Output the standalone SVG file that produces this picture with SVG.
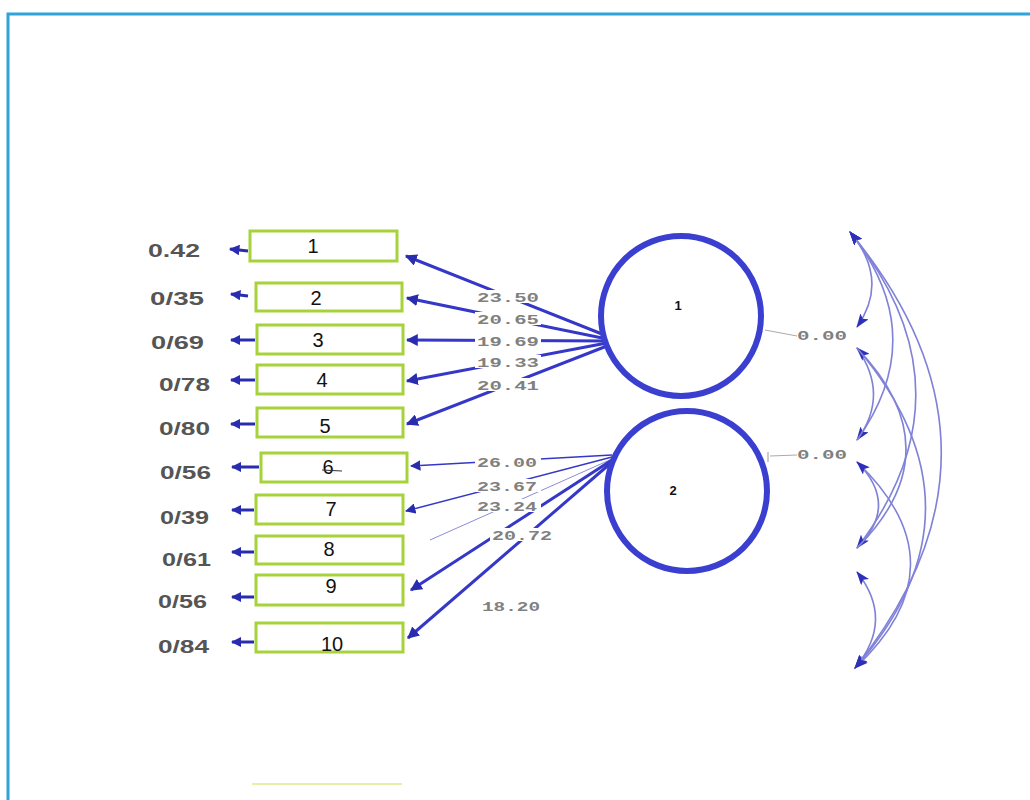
<svg xmlns="http://www.w3.org/2000/svg" width="1030" height="800" viewBox="0 0 1030 800">
<style>
.box{fill:#fff;stroke:#a6d23a;stroke-width:3}
.num{font-family:"Liberation Sans",Arial,sans-serif;font-size:20px;fill:#111;text-anchor:middle}
.err{font-family:"Liberation Sans",Arial,sans-serif;font-size:18px;font-weight:bold;fill:#555}
.load{font-family:"Liberation Mono","DejaVu Sans Mono",monospace;font-size:13px;fill:#808080;font-weight:bold}
.lat{fill:#fff;stroke:#3b3fd0;stroke-width:6}
.latl{font-family:"Liberation Sans",Arial,sans-serif;font-size:13px;font-weight:bold;fill:#111;text-anchor:middle}
.ln{stroke:#3537c8;fill:none;stroke-width:3}
.thin{stroke:#3537c8;fill:none;stroke-width:1.5}
.errln{stroke:#2a2cb0;stroke-width:3;fill:none}
.arc{stroke:#8082d8;stroke-width:1.6;fill:none}
.bg{fill:#fff}
</style>
<defs>
<marker id="ah" viewBox="0 0 10 10" refX="9" refY="5" markerWidth="4" markerHeight="4" orient="auto-start-reverse" markerUnits="strokeWidth">
<path d="M0,0 L10,5 L0,10 z" fill="#2a2cb0"/>
</marker>
<marker id="ahs" viewBox="0 0 10 10" refX="9" refY="5" markerWidth="7" markerHeight="7" orient="auto-start-reverse" markerUnits="strokeWidth">
<path d="M0,0 L10,5 L0,10 z" fill="#2a2cb0"/>
</marker>
<marker id="ahe" viewBox="0 0 10 10" refX="9" refY="5" markerWidth="3.5" markerHeight="3.5" orient="auto" markerUnits="strokeWidth">
<path d="M0,0 L10,5 L0,10 z" fill="#2a2cb0"/>
</marker>
<marker id="aha" viewBox="0 0 14 10" refX="13" refY="5" markerWidth="14" markerHeight="10" orient="auto-start-reverse" markerUnits="userSpaceOnUse">
<path d="M0,0 L14,5 L0,10 L3,5 z" fill="#2e30b8"/>
</marker>
</defs>
<rect x="0" y="0" width="1030" height="800" fill="#fff"/>
<rect id="frame" x="8" y="14" width="1030" height="800" fill="none" stroke="#2fa3da" stroke-width="3"/>
<line x1="252" y1="784" x2="402" y2="784" stroke="#e6f0a8" stroke-width="2"/>

<g id="connectors">
<!-- error arrows -->
<line class="errln" x1="248" y1="251" x2="230" y2="249" marker-end="url(#ahe)"/>
<line class="errln" x1="248" y1="296" x2="231" y2="294" marker-end="url(#ahe)"/>
<line class="errln" x1="255" y1="340" x2="231" y2="340" marker-end="url(#ahe)"/>
<line class="errln" x1="255" y1="380" x2="231" y2="380" marker-end="url(#ahe)"/>
<line class="errln" x1="255" y1="424" x2="231" y2="424" marker-end="url(#ahe)"/>
<line class="errln" x1="259" y1="467" x2="232" y2="467" marker-end="url(#ahe)"/>
<line class="errln" x1="254" y1="510" x2="232" y2="510" marker-end="url(#ahe)"/>
<line class="errln" x1="254" y1="552" x2="232" y2="552" marker-end="url(#ahe)"/>
<line class="errln" x1="254" y1="597" x2="232" y2="597" marker-end="url(#ahe)"/>
<line class="errln" x1="254" y1="642" x2="232" y2="642" marker-end="url(#ahe)"/>
<!-- loadings factor 1 -->
<line class="ln" x1="612" y1="338" x2="406" y2="256" marker-end="url(#ah)"/>
<line class="ln" x1="612" y1="340" x2="407" y2="298" marker-end="url(#ah)"/>
<line class="ln" x1="612" y1="341" x2="407" y2="340" marker-end="url(#ah)"/>
<line class="ln" x1="612" y1="342" x2="407" y2="381" marker-end="url(#ah)"/>
<line class="ln" x1="612" y1="344" x2="407" y2="424" marker-end="url(#ah)"/>
<!-- loadings factor 2 -->
<line class="thin" x1="612" y1="455" x2="411" y2="466" marker-end="url(#ahs)"/>
<line class="thin" x1="612" y1="457" x2="406" y2="511" marker-end="url(#ahs)"/>
<line stroke="#8a8cd8" stroke-width="1" x1="612" y1="459" x2="430" y2="540"/>
<line class="ln" x1="612" y1="460" x2="411" y2="590" marker-end="url(#ah)"/>
<line class="ln" x1="612" y1="462" x2="408" y2="638" marker-end="url(#ah)"/>
<!-- factor variance lines -->
<line stroke="#aaa" stroke-width="1" x1="765" y1="330" x2="797" y2="336"/>
<line stroke="#aaa" stroke-width="1" x1="770" y1="456" x2="797" y2="455"/>
<line stroke="#999" stroke-width="1" x1="768" y1="452" x2="768" y2="462"/>
<!-- correlation arcs (two-headed) -->
<path class="arc" d="M850,232 Q890,280 857,327" marker-start="url(#aha)" marker-end="url(#aha)"/>
<path class="arc" d="M850,232 Q932,335 857,440" marker-start="url(#aha)" marker-end="url(#aha)"/>
<path class="arc" d="M850,232 Q978,390 857,548" marker-start="url(#aha)" marker-end="url(#aha)"/>
<path class="arc" d="M850,232 Q1030,450 855,668" marker-start="url(#aha)" marker-end="url(#aha)"/>
<path class="arc" d="M857,348 Q890,395 857,440"/>
<path class="arc" d="M857,348 Q955,450 857,548" marker-start="url(#aha)"/>
<path class="arc" d="M857,348 Q995,510 855,668" marker-end="url(#aha)"/>
<path class="arc" d="M857,462 Q900,505 857,548"/>
<path class="arc" d="M857,462 Q965,565 855,668" marker-start="url(#aha)" marker-end="url(#aha)"/>
<path class="arc" d="M857,572 Q895,620 855,668" marker-start="url(#aha)" marker-end="url(#aha)"/>
</g>

<g id="loading-labels">
<rect class="bg" x="475" y="290" width="66" height="13"/>
<text class="load" x="477" y="302" textLength="62" lengthAdjust="spacingAndGlyphs">23.50</text>
<rect class="bg" x="475" y="312" width="66" height="13"/>
<text class="load" x="477" y="324" textLength="62" lengthAdjust="spacingAndGlyphs">20.65</text>
<rect class="bg" x="475" y="334" width="66" height="13"/>
<text class="load" x="477" y="346" textLength="62" lengthAdjust="spacingAndGlyphs">19.69</text>
<rect class="bg" x="475" y="355" width="66" height="13"/>
<text class="load" x="477" y="367" textLength="62" lengthAdjust="spacingAndGlyphs">19.33</text>
<rect class="bg" x="475" y="378" width="66" height="13"/>
<text class="load" x="477" y="390" textLength="62" lengthAdjust="spacingAndGlyphs">20.41</text>
<rect class="bg" x="475" y="455" width="66" height="13"/>
<text class="load" x="477" y="467" textLength="60" lengthAdjust="spacingAndGlyphs">26.00</text>
<rect class="bg" x="475" y="479" width="66" height="13"/>
<text class="load" x="477" y="491" textLength="60" lengthAdjust="spacingAndGlyphs">23.67</text>
<rect class="bg" x="475" y="499" width="66" height="13"/>
<text class="load" x="477" y="511" textLength="60" lengthAdjust="spacingAndGlyphs">23.24</text>
<rect class="bg" x="490" y="528" width="66" height="13"/>
<text class="load" x="492" y="540" textLength="60" lengthAdjust="spacingAndGlyphs">20.72</text>
<rect class="bg" x="480" y="599" width="66" height="13"/>
<text class="load" x="482" y="611" textLength="58" lengthAdjust="spacingAndGlyphs">18.20</text>
<text class="load" x="797" y="340" textLength="50" lengthAdjust="spacingAndGlyphs">0.00</text>
<text class="load" x="797" y="459" textLength="50" lengthAdjust="spacingAndGlyphs">0.00</text>
</g>

<g id="latent1"><circle class="lat" cx="681" cy="316" r="80"/><text class="latl" x="678" y="310">1</text></g>
<g id="latent2"><circle class="lat" cx="687" cy="491" r="80"/><text class="latl" x="673" y="495">2</text></g>

<g id="v1"><rect class="box" x="250" y="231" width="147" height="30"/><text class="num" x="313" y="253">1</text><text class="err" x="148" y="257" textLength="52" lengthAdjust="spacingAndGlyphs">0.42</text></g>
<g id="v2"><rect class="box" x="256" y="283" width="146" height="28"/><text class="num" x="316" y="305">2</text><text class="err" x="150" y="305" textLength="54" lengthAdjust="spacingAndGlyphs">0/35</text></g>
<g id="v3"><rect class="box" x="257" y="325" width="146" height="29"/><text class="num" x="318" y="347">3</text><text class="err" x="151" y="349" textLength="53" lengthAdjust="spacingAndGlyphs">0/69</text></g>
<g id="v4"><rect class="box" x="257" y="365" width="146" height="29"/><text class="num" x="322" y="387">4</text><text class="err" x="159" y="391" textLength="51" lengthAdjust="spacingAndGlyphs">0/78</text></g>
<g id="v5"><rect class="box" x="257" y="408" width="146" height="29"/><text class="num" x="325" y="433">5</text><text class="err" x="159" y="435" textLength="51" lengthAdjust="spacingAndGlyphs">0/80</text></g>
<g id="v6"><rect class="box" x="261" y="453" width="146" height="29"/><text class="num" x="328" y="474">6</text><line x1="322" y1="470" x2="342" y2="471" stroke="#333" stroke-width="1.2"/><text class="err" x="160" y="479" textLength="51" lengthAdjust="spacingAndGlyphs">0/56</text></g>
<g id="v7"><rect class="box" x="256" y="495" width="147" height="29"/><text class="num" x="331" y="516">7</text><text class="err" x="160" y="524" textLength="49" lengthAdjust="spacingAndGlyphs">0/39</text></g>
<g id="v8"><rect class="box" x="256" y="536" width="147" height="28"/><text class="num" x="329" y="556">8</text><text class="err" x="162" y="566" textLength="49" lengthAdjust="spacingAndGlyphs">0/61</text></g>
<g id="v9"><rect class="box" x="256" y="575" width="147" height="30"/><text class="num" x="331" y="593">9</text><text class="err" x="158" y="608" textLength="49" lengthAdjust="spacingAndGlyphs">0/56</text></g>
<g id="v10"><rect class="box" x="256" y="623" width="147" height="29"/><text class="num" x="332" y="651">10</text><text class="err" x="158" y="653" textLength="51" lengthAdjust="spacingAndGlyphs">0/84</text></g>
</svg>
